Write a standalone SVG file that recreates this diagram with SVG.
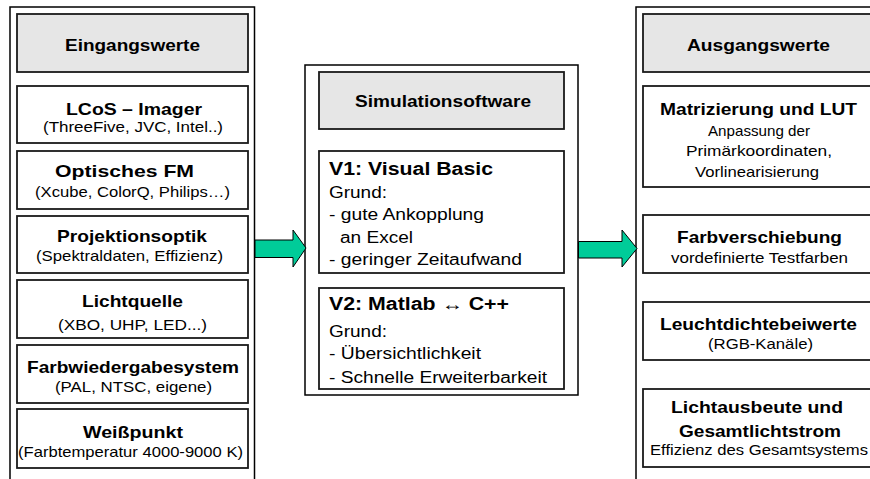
<svg xmlns="http://www.w3.org/2000/svg" width="870" height="479" viewBox="0 0 870 479">
<style>
text{font-family:"Liberation Sans",Arial,sans-serif;fill:#000}
.outer{fill:#fff;stroke:#000;stroke-width:1.5}
.box{fill:#fff;stroke:#1a1a1a;stroke-width:1.8}
.hdr{fill:#e6e6e6;stroke:#1a1a1a;stroke-width:1.8}
.t{font-weight:bold;font-size:17px;text-anchor:middle}
.s{font-size:15px;text-anchor:middle}
.mt{font-weight:bold;font-size:18px}
.mb{font-size:16px}
.arrow{fill:#00cc99;stroke:#000;stroke-width:1}
</style>
<rect width="870" height="479" fill="#fff"/>

<g id="eingangswerte">
<rect class="outer" x="10" y="7" width="244.5" height="490"/>
<g id="in-header"><rect class="hdr" x="17" y="14" width="231" height="58"/><text class="t" x="132.5" y="50.5" textLength="135" lengthAdjust="spacingAndGlyphs">Eingangswerte</text></g>
<g id="in-lcos"><rect class="box" x="17" y="86" width="231" height="57"/><text class="t" x="134" y="115" textLength="136" lengthAdjust="spacingAndGlyphs">LCoS – Imager</text><text class="s" x="133" y="131.5" textLength="180" lengthAdjust="spacingAndGlyphs">(ThreeFive, JVC, Intel..)</text></g>
<g id="in-optisch"><rect class="box" x="17" y="151" width="231" height="58"/><text class="t" x="124.5" y="176.5" textLength="139" lengthAdjust="spacingAndGlyphs">Optisches FM</text><text class="s" x="132.5" y="196.5" textLength="195" lengthAdjust="spacingAndGlyphs">(Xcube, ColorQ, Philips…)</text></g>
<g id="in-projektion"><rect class="box" x="17" y="216" width="231" height="57"/><text class="t" x="132" y="241.5" textLength="150" lengthAdjust="spacingAndGlyphs">Projektionsoptik</text><text class="s" x="129.5" y="261" textLength="187" lengthAdjust="spacingAndGlyphs">(Spektraldaten, Effizienz)</text></g>
<g id="in-licht"><rect class="box" x="17" y="280" width="231" height="58"/><text class="t" x="132.5" y="306.5" textLength="101" lengthAdjust="spacingAndGlyphs">Lichtquelle</text><text class="s" x="132.5" y="330" textLength="149" lengthAdjust="spacingAndGlyphs">(XBO, UHP, LED...)</text></g>
<g id="in-farb"><rect class="box" x="17" y="345" width="231" height="58"/><text class="t" x="133" y="373" textLength="212" lengthAdjust="spacingAndGlyphs">Farbwiedergabesystem</text><text class="s" x="133.5" y="391.5" textLength="157" lengthAdjust="spacingAndGlyphs">(PAL, NTSC, eigene)</text></g>
<g id="in-weiss"><rect class="box" x="17" y="409" width="231" height="59"/><text class="t" x="133" y="438" textLength="100" lengthAdjust="spacingAndGlyphs">Weißpunkt</text><text class="s" x="130.5" y="456.5" textLength="225" lengthAdjust="spacingAndGlyphs">(Farbtemperatur 4000-9000 K)</text></g>
</g>

<g id="simulation">
<rect class="outer" x="305" y="65" width="273" height="330"/>
<g id="sim-header"><rect class="hdr" x="319" y="72" width="245" height="57"/><text class="t" x="443" y="107" textLength="176" lengthAdjust="spacingAndGlyphs">Simulationsoftware</text></g>
<g id="sim-v1"><rect class="box" x="319" y="151" width="245" height="122"/>
<text class="mt" x="329" y="175" textLength="164" lengthAdjust="spacingAndGlyphs">V1: Visual Basic</text>
<text class="mb" x="329" y="197.5" textLength="58" lengthAdjust="spacingAndGlyphs">Grund:</text>
<text class="mb" x="329" y="220" textLength="155" lengthAdjust="spacingAndGlyphs">- gute Ankopplung</text>
<text class="mb" x="340" y="243" textLength="73" lengthAdjust="spacingAndGlyphs">an Excel</text>
<text class="mb" x="329" y="265" textLength="193" lengthAdjust="spacingAndGlyphs">- geringer Zeitaufwand</text></g>
<g id="sim-v2"><rect class="box" x="319" y="288" width="245" height="101"/>
<text class="mt" x="329" y="310" textLength="180" lengthAdjust="spacingAndGlyphs">V2: Matlab ↔ C++</text>
<text class="mb" x="329" y="336.5" textLength="58" lengthAdjust="spacingAndGlyphs">Grund:</text>
<text class="mb" x="329" y="359" textLength="152" lengthAdjust="spacingAndGlyphs">- Übersichtlichkeit</text>
<text class="mb" x="329" y="382.5" textLength="218" lengthAdjust="spacingAndGlyphs">- Schnelle Erweiterbarkeit</text></g>
</g>

<g id="ausgangswerte">
<rect class="outer" x="636" y="7" width="260" height="490"/>
<g id="out-header"><rect class="hdr" x="643" y="14" width="231" height="58"/><text class="t" x="758.5" y="50.5" textLength="143" lengthAdjust="spacingAndGlyphs">Ausgangswerte</text></g>
<g id="out-matrix"><rect class="box" x="643" y="86" width="231" height="101"/><text class="t" x="758.5" y="115" textLength="197" lengthAdjust="spacingAndGlyphs">Matrizierung und LUT</text><text class="s" x="759" y="135.5" textLength="102" lengthAdjust="spacingAndGlyphs">Anpassung der</text><text class="s" x="759" y="155.5" textLength="146" lengthAdjust="spacingAndGlyphs">Primärkoordinaten,</text><text class="s" x="757" y="176.5" textLength="124" lengthAdjust="spacingAndGlyphs">Vorlinearisierung</text></g>
<g id="out-farbv"><rect class="box" x="643" y="215" width="231" height="58"/><text class="t" x="759.5" y="243" textLength="165" lengthAdjust="spacingAndGlyphs">Farbverschiebung</text><text class="s" x="759.5" y="262.5" textLength="177" lengthAdjust="spacingAndGlyphs">vordefinierte Testfarben</text></g>
<g id="out-leucht"><rect class="box" x="643" y="302" width="231" height="58"/><text class="t" x="758.5" y="330" textLength="197" lengthAdjust="spacingAndGlyphs">Leuchtdichtebeiwerte</text><text class="s" x="760.5" y="348.5" textLength="105" lengthAdjust="spacingAndGlyphs">(RGB-Kanäle)</text></g>
<g id="out-lichtaus"><rect class="box" x="643" y="389" width="231" height="78"/><text class="t" x="757" y="412.5" textLength="172" lengthAdjust="spacingAndGlyphs">Lichtausbeute und</text><text class="t" x="760" y="436.5" textLength="162" lengthAdjust="spacingAndGlyphs">Gesamtlichtstrom</text><text class="s" x="759" y="455" textLength="218" lengthAdjust="spacingAndGlyphs">Effizienz des Gesamtsystems</text></g>
</g>

<g id="connectors">
<polygon class="arrow" points="255,240 293,240 293,230 306,248 293,267 293,257.5 255,257.5"/>
<polygon class="arrow" points="578.5,241.5 622,241.5 622,230 637,248.5 622,267 622,258 578.5,258"/>
</g>
</svg>
